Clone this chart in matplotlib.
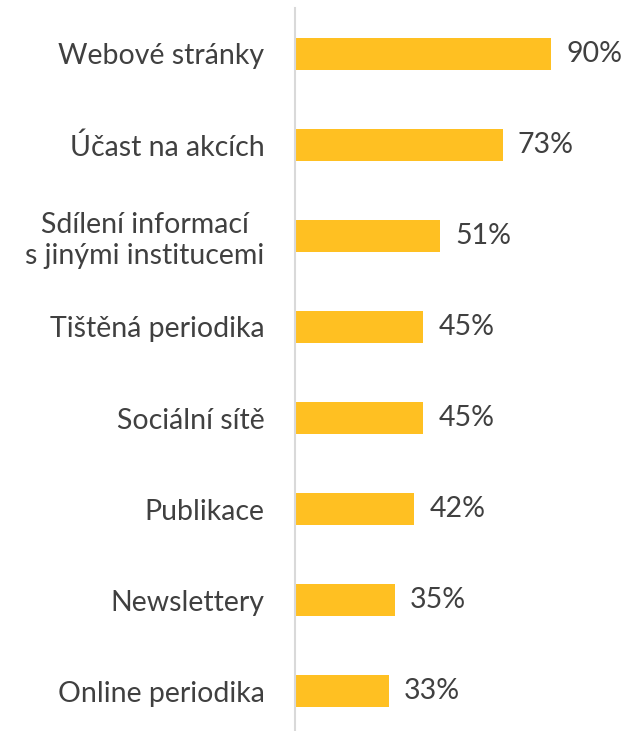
import matplotlib.pyplot as plt

categories = ['Webové stránky', 'Účast na akcích', 'Sdílení informací\ns jinými institucemi',
              'Tištěná periodika', 'Sociální sítě', 'Publikace', 'Newslettery', 'Online periodika']
values = [90, 73, 51, 45, 45, 42, 35, 33]

plt.rcParams['font.family'] = ['Lato', 'DejaVu Sans']
text_color = '#404040'

fig = plt.figure(figsize=(6.28, 7.31), dpi=100)
ax = fig.add_axes([295 / 628, -6 / 731, 333 / 628, 729 / 731])

ypos = list(range(len(categories)))
ax.barh(ypos, values, height=0.35, color='#FFC022')
ax.set_ylim(len(categories) - 0.5, -0.5)
ax.set_xlim(0, 333 / 2.844)

for y, v in zip(ypos, values):
    ax.annotate(f'{v}%', (v, y), xytext=(11, 0), textcoords='offset points',
                va='center', ha='left', fontsize=20.5, color=text_color)

ax.set_yticks(ypos)
ax.set_yticklabels(categories, fontsize=20.5, color=text_color, multialignment='center')
ax.tick_params(axis='y', length=0, pad=22)
ax.set_xticks([])
for s in ['top', 'right', 'bottom']:
    ax.spines[s].set_visible(False)
ax.spines['left'].set_color('#D9D9D9')
ax.spines['left'].set_linewidth(1.5)

fig.savefig('out.png', dpi=100)
